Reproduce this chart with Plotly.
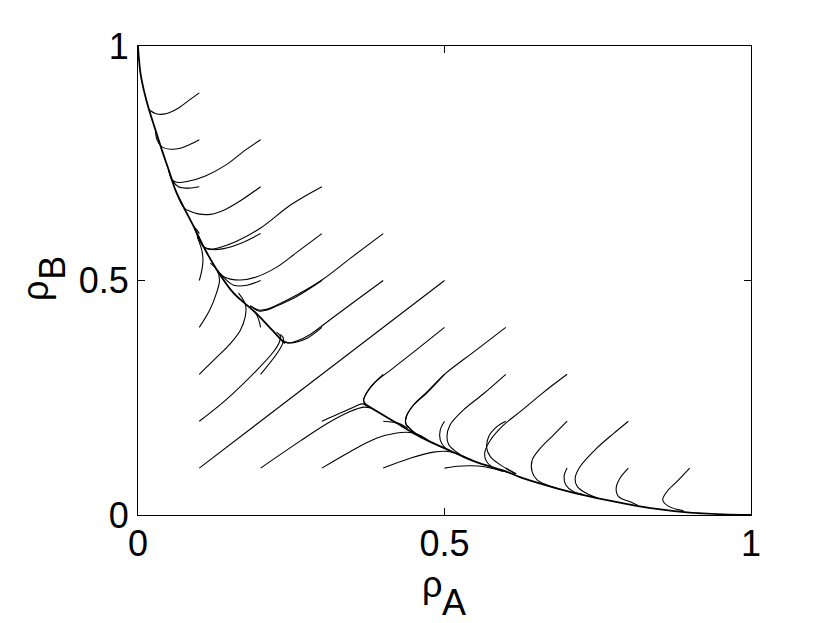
import plotly.graph_objects as go

# --- trajectories (rho_A, rho_B) ---

# slow manifold from the upper cusp to (0,1)
man_up_a = [0.240, 0.235, 0.219, 0.193, 0.156, 0.129, 0.107, 0.091, 0.075, 0.061, 0.050, 0.039, 0.0285, 0.018, 0.0095, 0.004, 0.001, 0.0]
man_up_b = [0.366, 0.372, 0.394, 0.430, 0.473, 0.522, 0.572, 0.615, 0.655, 0.693, 0.736, 0.778, 0.821, 0.864, 0.906, 0.942, 0.981, 1.0]

# slow manifold from the lower cusp to (1,0)
man_lo_a = [0.368, 0.395, 0.422, 0.450, 0.477, 0.504, 0.531, 0.558, 0.602, 0.629, 0.683, 0.738, 0.792, 0.846, 0.900, 0.955, 1.0]
man_lo_b = [0.238, 0.217, 0.196, 0.174, 0.156, 0.140, 0.124, 0.110, 0.092, 0.078, 0.057, 0.039, 0.025, 0.013, 0.005, 0.0015, 0.0]

# diagonal rho_A = rho_B
diag_a = [0.1, 0.2, 0.3, 0.4, 0.5]
diag_b = [0.1, 0.2, 0.3, 0.4, 0.5]

# upper-left starts (rho_B > rho_A)
u19_a = [0.1, 0.083, 0.064, 0.047, 0.031, 0.018]
u19_b = [0.9, 0.884, 0.866, 0.856, 0.855, 0.864]
u18_a = [0.1, 0.083, 0.069, 0.053, 0.039, 0.031, 0.0285]
u18_b = [0.8, 0.789, 0.782, 0.780, 0.785, 0.800, 0.821]
u28_a = [0.2, 0.175, 0.143, 0.110, 0.080, 0.065, 0.056, 0.050]
u28_b = [0.8, 0.778, 0.746, 0.723, 0.711, 0.709, 0.714, 0.736]
u17_a = [0.1, 0.083, 0.066, 0.056, 0.050]
u17_b = [0.7, 0.697, 0.700, 0.714, 0.736]
u27_a = [0.2, 0.167, 0.140, 0.118, 0.098, 0.084, 0.075, 0.061]
u27_b = [0.7, 0.670, 0.650, 0.641, 0.642, 0.648, 0.655, 0.693]
u37_a = [0.3, 0.25, 0.2, 0.16, 0.135, 0.118, 0.107, 0.091]
u37_b = [0.7, 0.662, 0.612, 0.583, 0.571, 0.567, 0.572, 0.615]
u16_a = [0.1, 0.096, 0.091]
u16_b = [0.6, 0.608, 0.615]
u26_a = [0.2, 0.167, 0.14, 0.12, 0.107, 0.099]
u26_b = [0.6, 0.579, 0.568, 0.566, 0.572, 0.594]
u36_a = [0.3, 0.26, 0.227, 0.194, 0.167, 0.151, 0.140, 0.129]
u36_b = [0.6, 0.561, 0.529, 0.508, 0.501, 0.503, 0.508, 0.522]
u46_a = [0.4, 0.35, 0.30, 0.259, 0.227, 0.211, 0.197, 0.183]
u46_b = [0.6, 0.551, 0.501, 0.469, 0.448, 0.439, 0.437, 0.446]
u15_a = [0.1, 0.104, 0.106, 0.104, 0.0965]
u15_b = [0.5, 0.521, 0.543, 0.565, 0.593]
u25_a = [0.2, 0.178, 0.156, 0.140, 0.129]
u25_b = [0.5, 0.490, 0.490, 0.506, 0.522]
u35_a = [0.3, 0.259, 0.227, 0.211, 0.197, 0.183]
u35_b = [0.5, 0.466, 0.446, 0.437, 0.435, 0.446]
u45_a = [0.4, 0.35, 0.31, 0.281, 0.259, 0.245, 0.236]
u45_b = [0.5, 0.452, 0.413, 0.385, 0.371, 0.367, 0.372]
u14_a = [0.1, 0.117, 0.128, 0.133, 0.129, 0.118]
u14_b = [0.4, 0.437, 0.473, 0.501, 0.522, 0.537]
u24_a = [0.2, 0.197, 0.193, 0.187]
u24_b = [0.4, 0.416, 0.428, 0.437]
u34_a = [0.3, 0.276, 0.256, 0.244, 0.236]
u34_b = [0.4, 0.377, 0.368, 0.367, 0.372]
u13_a = [0.1, 0.129, 0.151, 0.167, 0.175, 0.176, 0.172, 0.164]
u13_b = [0.3, 0.337, 0.366, 0.394, 0.423, 0.444, 0.458, 0.473]
u23_a = [0.2, 0.227, 0.236, 0.237, 0.232]
u23_b = [0.3, 0.345, 0.366, 0.378, 0.385]
u12_a = [0.1, 0.143, 0.194, 0.221, 0.231, 0.232, 0.226]
u12_b = [0.2, 0.245, 0.309, 0.348, 0.370, 0.382, 0.390]

# lower-right starts (rho_A > rho_B)
l21_a = [0.2, 0.265, 0.31, 0.345, 0.368, 0.38]
l21_b = [0.1, 0.158, 0.196, 0.220, 0.230, 0.228]
l32_a = [0.3, 0.335, 0.355, 0.366, 0.375]
l32_b = [0.2, 0.220, 0.232, 0.237, 0.232]
l43_a = [0.4, 0.382, 0.371, 0.368, 0.372]
l43_b = [0.3, 0.277, 0.256, 0.242, 0.235]
l54_a = [0.5, 0.452, 0.413, 0.386, 0.373, 0.368, 0.372]
l54_b = [0.4, 0.350, 0.310, 0.282, 0.260, 0.245, 0.236]
l31_a = [0.3, 0.346, 0.390, 0.422, 0.444, 0.458, 0.477]
l31_b = [0.1, 0.135, 0.164, 0.175, 0.176, 0.171, 0.156]
l42_a = [0.4, 0.416, 0.43, 0.44]
l42_b = [0.2, 0.198, 0.193, 0.185]
l41_a = [0.4, 0.444, 0.482, 0.509, 0.528, 0.545]
l41_b = [0.1, 0.121, 0.134, 0.135, 0.127, 0.117]
l51_a = [0.5, 0.521, 0.543, 0.565, 0.585, 0.602]
l51_b = [0.1, 0.104, 0.105, 0.103, 0.097, 0.092]
l52_a = [0.5, 0.493, 0.493, 0.501, 0.515]
l52_b = [0.2, 0.181, 0.160, 0.143, 0.132]
l53_a = [0.5, 0.471, 0.448, 0.437, 0.437, 0.442, 0.450, 0.464]
l53_b = [0.3, 0.260, 0.232, 0.208, 0.194, 0.186, 0.176, 0.164]
l64_a = [0.6, 0.55, 0.5, 0.471, 0.449, 0.438, 0.437, 0.442, 0.450, 0.464]
l64_b = [0.4, 0.35, 0.3, 0.262, 0.234, 0.210, 0.195, 0.187, 0.177, 0.164]
l63_a = [0.6, 0.564, 0.531, 0.509, 0.504, 0.507, 0.515, 0.531]
l63_b = [0.3, 0.259, 0.224, 0.192, 0.167, 0.150, 0.139, 0.124]
l62_a = [0.6, 0.585, 0.572, 0.569, 0.575, 0.590, 0.615]
l62_b = [0.2, 0.188, 0.167, 0.142, 0.124, 0.108, 0.088]
l61_a = [0.6, 0.617]
l61_b = [0.1, 0.088]
l73_a = [0.7, 0.66, 0.625, 0.595, 0.575, 0.566, 0.567, 0.576, 0.595]
l73_b = [0.3, 0.26, 0.222, 0.19, 0.16, 0.135, 0.118, 0.104, 0.093]
l72_a = [0.7, 0.678, 0.656, 0.643, 0.643, 0.651, 0.667, 0.683]
l72_b = [0.2, 0.171, 0.142, 0.117, 0.092, 0.075, 0.064, 0.057]
l71_a = [0.7, 0.695, 0.698, 0.710, 0.725]
l71_b = [0.1, 0.082, 0.064, 0.050, 0.044]
l82_a = [0.8, 0.776, 0.748, 0.721, 0.713, 0.717, 0.732, 0.75]
l82_b = [0.2, 0.174, 0.142, 0.103, 0.078, 0.060, 0.046, 0.036]
l81_a = [0.8, 0.786, 0.780, 0.784, 0.803, 0.815]
l81_b = [0.1, 0.078, 0.057, 0.039, 0.028, 0.021]
l91_a = [0.9, 0.879, 0.863, 0.856, 0.865, 0.890]
l91_b = [0.1, 0.071, 0.050, 0.032, 0.019, 0.009]

tick_vals = [0, 0.5, 1]
tick_text = ["0", "0.5", "1"]

trajectories = [
    (u19_a, u19_b), (u18_a, u18_b), (u28_a, u28_b), (u17_a, u17_b), (u27_a, u27_b),
    (u37_a, u37_b), (u16_a, u16_b), (u26_a, u26_b), (u36_a, u36_b), (u46_a, u46_b),
    (u15_a, u15_b), (u25_a, u25_b), (u35_a, u35_b), (u45_a, u45_b), (u14_a, u14_b),
    (u24_a, u24_b), (u34_a, u34_b), (u13_a, u13_b), (u23_a, u23_b), (u12_a, u12_b),
    (l21_a, l21_b), (l32_a, l32_b), (l43_a, l43_b), (l54_a, l54_b), (l31_a, l31_b),
    (l42_a, l42_b), (l41_a, l41_b), (l51_a, l51_b), (l52_a, l52_b), (l53_a, l53_b),
    (l64_a, l64_b), (l63_a, l63_b), (l62_a, l62_b), (l61_a, l61_b), (l73_a, l73_b),
    (l72_a, l72_b), (l71_a, l71_b), (l82_a, l82_b), (l81_a, l81_b), (l91_a, l91_b),
]

fig = go.Figure()

for xa, yb in trajectories:
    fig.add_trace(go.Scatter(x=xa, y=yb, mode="lines",
                             line=dict(color="black", width=1.1, shape="spline", smoothing=1.0),
                             hoverinfo="skip"))

fig.add_trace(go.Scatter(x=diag_a, y=diag_b, mode="lines",
                         line=dict(color="black", width=1.1), hoverinfo="skip"))

for xa, yb in [(man_up_a, man_up_b), (man_lo_a, man_lo_b)]:
    fig.add_trace(go.Scatter(x=xa, y=yb, mode="lines",
                             line=dict(color="black", width=1.8, shape="spline", smoothing=0.8),
                             hoverinfo="skip"))

font_main = "Liberation Sans, Arial, Helvetica, sans-serif"

axis_style = dict(
    range=[0, 1], tickvals=tick_vals, ticktext=tick_text,
    showgrid=False, zeroline=False, showline=True, linecolor="black", linewidth=1,
    mirror="ticks", ticks="inside", ticklen=7, tickcolor="black", tickwidth=1,
    tickfont=dict(family=font_main, size=36, color="black"),
)

fig.update_xaxes(**axis_style, ticklabelstandoff=-3)
fig.update_yaxes(**axis_style, ticklabelstandoff=1)

title_font = dict(family=font_main, size=36, color="black")
# x-axis label: rho with subscript A (subscript drawn at full size, as in the reference)
fig.add_annotation(text="ρ", xref="paper", yref="paper", x=0.4788, y=-0.149,
                   xanchor="center", yanchor="middle", showarrow=False, font=title_font)
fig.add_annotation(text="A", xref="paper", yref="paper", x=0.5155, y=-0.1876,
                   xanchor="center", yanchor="middle", showarrow=False, font=title_font)
# y-axis label: rho with subscript B, rotated
fig.add_annotation(text="ρ", xref="paper", yref="paper", x=-0.168, y=0.4776,
                   xanchor="center", yanchor="middle", showarrow=False, textangle=-90,
                   font=title_font)
fig.add_annotation(text="B", xref="paper", yref="paper", x=-0.139, y=0.5267,
                   xanchor="center", yanchor="middle", showarrow=False, textangle=-90,
                   font=title_font)

# page body adds an 8px offset, so the figure is 8px smaller than the window
fig.update_layout(
    width=822, height=615,
    margin=dict(l=130, r=79, t=38, b=108),
    paper_bgcolor="white", plot_bgcolor="white",
    showlegend=False,
)

fig.write_html("out.html")
